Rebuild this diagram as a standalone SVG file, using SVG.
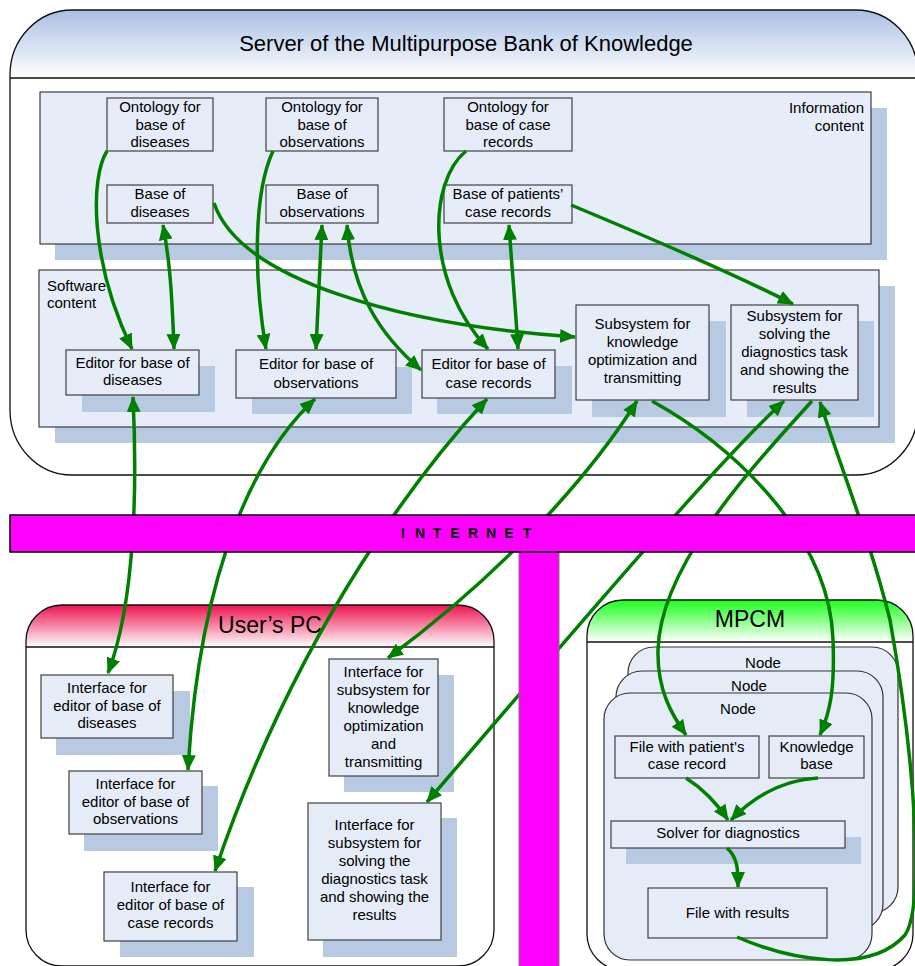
<svg xmlns="http://www.w3.org/2000/svg" width="915" height="966" viewBox="0 0 915 966">
<style>
.box{fill:#e5ecf7;stroke:#404040;stroke-width:1.2}
.sh{fill:#b8c9e2}
.panel{fill:#e6edf8;stroke:#1a1a1a;stroke-width:1}
.node{fill:#e5ecf7;stroke:#333;stroke-width:1.2}
.t{font-family:"Liberation Sans",Arial,sans-serif;font-size:15px;fill:#000;text-anchor:middle}
.l{text-anchor:start}
.r{text-anchor:end}
.h{font-family:"Liberation Sans",Arial,sans-serif;font-size:23px;fill:#000;text-anchor:middle}
.c{fill:none;stroke:#008000;stroke-width:3.5;marker-end:url(#ah)}
.d{marker-start:url(#ah)}
.cont{stroke:#111;stroke-width:1.3}
.hl{stroke:#111;stroke-width:1.3}
</style>
<defs>
<linearGradient id="gS" gradientUnits="userSpaceOnUse" x1="0" y1="10" x2="0" y2="78">
<stop offset="0" stop-color="#a9bfe3"/><stop offset="1" stop-color="#ffffff"/></linearGradient>
<linearGradient id="gU" gradientUnits="userSpaceOnUse" x1="0" y1="605" x2="0" y2="647">
<stop offset="0" stop-color="#ee1250"/><stop offset="1" stop-color="#ffffff"/></linearGradient>
<linearGradient id="gM" gradientUnits="userSpaceOnUse" x1="0" y1="600" x2="0" y2="642">
<stop offset="0" stop-color="#1cff1c"/><stop offset="1" stop-color="#ffffff"/></linearGradient>
<marker id="ah" markerUnits="userSpaceOnUse" viewBox="0 0 16 14" markerWidth="16" markerHeight="14" refX="15" refY="7" orient="auto-start-reverse">
<path d="M0,0 L16,7 L0,14 z" fill="#008000"/></marker>
</defs>

<!-- Server container -->
<g id="server">
<rect class="cont" x="10" y="10" width="908" height="465" rx="62" ry="65" fill="url(#gS)"/>
<line class="hl" x1="10" y1="78" x2="918" y2="78"/>
<text class="h" x="466" y="51" style="font-size:22px">Server of the Multipurpose Bank of Knowledge</text>
</g>

<g id="information-content">
<rect class="sh" x="55" y="108" width="832" height="152"/>
<rect class="panel" x="40" y="92" width="831" height="152"/>
<text class="t r"><tspan x="864" y="113">Information</tspan><tspan x="864" y="131">content</tspan></text>
</g>
<g id="ont-diseases"><rect class="box" x="107" y="98" width="106" height="53"/>
<text class="t"><tspan x="160" y="112">Ontology for</tspan><tspan x="160" y="129.5">base of</tspan><tspan x="160" y="147">diseases</tspan></text></g>
<g id="ont-observations"><rect class="box" x="266" y="98" width="112" height="53"/>
<text class="t"><tspan x="322" y="112">Ontology for</tspan><tspan x="322" y="129.5">base of</tspan><tspan x="322" y="147">observations</tspan></text></g>
<g id="ont-cases"><rect class="box" x="444" y="98" width="128" height="53"/>
<text class="t"><tspan x="508" y="112">Ontology for</tspan><tspan x="508" y="129.5">base of case</tspan><tspan x="508" y="147">records</tspan></text></g>
<g id="base-diseases"><rect class="box" x="107" y="185" width="106" height="38"/>
<text class="t"><tspan x="160" y="199">Base of</tspan><tspan x="160" y="217">diseases</tspan></text></g>
<g id="base-observations"><rect class="box" x="266" y="185" width="112" height="38"/>
<text class="t"><tspan x="322" y="199">Base of</tspan><tspan x="322" y="217">observations</tspan></text></g>
<g id="base-cases"><rect class="box" x="444" y="185" width="128" height="38"/>
<text class="t"><tspan x="508" y="199">Base of patients’</tspan><tspan x="508" y="217">case records</tspan></text></g>

<g id="software-content">
<rect class="sh" x="55" y="286" width="840" height="157"/>
<rect class="panel" x="39" y="270" width="840" height="157"/>
<text class="t l"><tspan x="47" y="291">Software</tspan><tspan x="47" y="308">content</tspan></text>
</g>
<g id="editor-diseases"><rect class="sh" x="82" y="366" width="133" height="46"/><rect class="box" x="66" y="350" width="133" height="45"/>
<text class="t"><tspan x="132.5" y="368">Editor for base of</tspan><tspan x="132.5" y="385">diseases</tspan></text></g>
<g id="editor-observations"><rect class="sh" x="252" y="367" width="160" height="47"/><rect class="box" x="236" y="350" width="160" height="48"/>
<text class="t"><tspan x="316" y="369">Editor for base of</tspan><tspan x="316" y="388">observations</tspan></text></g>
<g id="editor-cases"><rect class="sh" x="437" y="366" width="135" height="48"/><rect class="box" x="422" y="350" width="133" height="48"/>
<text class="t"><tspan x="488.5" y="369">Editor for base of</tspan><tspan x="488.5" y="388">case records</tspan></text></g>
<g id="subsystem-knowledge"><rect class="sh" x="592" y="321" width="134" height="96"/><rect class="box" x="576" y="305" width="133" height="95"/>
<text class="t"><tspan x="642.5" y="329">Subsystem for</tspan><tspan x="642.5" y="347">knowledge</tspan><tspan x="642.5" y="365">optimization and</tspan><tspan x="642.5" y="383">transmitting</tspan></text></g>
<g id="subsystem-solving"><rect class="sh" x="747" y="321" width="127" height="96"/><rect class="box" x="731" y="305" width="127" height="95"/>
<text class="t"><tspan x="794.5" y="321">Subsystem for</tspan><tspan x="794.5" y="339">solving the</tspan><tspan x="794.5" y="357">diagnostics task</tspan><tspan x="794.5" y="375">and showing the</tspan><tspan x="794.5" y="393">results</tspan></text></g>

<!-- User's PC -->
<g id="users-pc">
<rect class="cont" x="26" y="605" width="468" height="361" rx="36" fill="url(#gU)"/>
<line class="hl" x1="26" y1="647" x2="494" y2="647"/>
<text class="h" x="270" y="633">User’s PC</text>
</g>
<g id="if-diseases"><rect class="sh" x="56" y="691" width="134" height="64"/><rect class="box" x="41" y="675" width="132" height="63"/>
<text class="t"><tspan x="107" y="693">Interface for</tspan><tspan x="107" y="711">editor of base of</tspan><tspan x="107" y="728">diseases</tspan></text></g>
<g id="if-observations"><rect class="sh" x="84" y="786" width="134" height="65"/><rect class="box" x="69" y="771" width="133" height="63"/>
<text class="t"><tspan x="135.5" y="789">Interface for</tspan><tspan x="135.5" y="807">editor of base of</tspan><tspan x="135.5" y="824">observations</tspan></text></g>
<g id="if-cases"><rect class="sh" x="120" y="887" width="134" height="70"/><rect class="box" x="104" y="872" width="133" height="69"/>
<text class="t"><tspan x="170.5" y="892">Interface for</tspan><tspan x="170.5" y="910">editor of base of</tspan><tspan x="170.5" y="928">case records</tspan></text></g>
<g id="if-knowledge"><rect class="sh" x="344" y="675" width="110" height="117"/><rect class="box" x="329" y="659" width="109" height="117"/>
<text class="t"><tspan x="383.5" y="677">Interface for</tspan><tspan x="383.5" y="695">subsystem for</tspan><tspan x="383.5" y="713">knowledge</tspan><tspan x="383.5" y="731">optimization</tspan><tspan x="383.5" y="749">and</tspan><tspan x="383.5" y="767">transmitting</tspan></text></g>
<g id="if-solving"><rect class="sh" x="323" y="818" width="134" height="139"/><rect class="box" x="308" y="803" width="133" height="137"/>
<text class="t"><tspan x="374.5" y="830">Interface for</tspan><tspan x="374.5" y="848">subsystem for</tspan><tspan x="374.5" y="866">solving the</tspan><tspan x="374.5" y="884">diagnostics task</tspan><tspan x="374.5" y="902">and showing the</tspan><tspan x="374.5" y="920">results</tspan></text></g>

<!-- MPCM -->
<g id="mpcm">
<rect class="cont" x="587" y="600" width="326" height="370" rx="36" fill="url(#gM)"/>
<line class="hl" x1="587" y1="642" x2="913" y2="642"/>
<text class="h" x="750" y="627">MPCM</text>
</g>
<g id="node-3"><rect class="node" x="628" y="647" width="270" height="266" rx="26"/>
<text class="t" x="763" y="668">Node</text></g>
<g id="node-2"><rect class="node" x="616" y="671" width="267" height="259" rx="26"/>
<text class="t" x="749" y="691">Node</text></g>
<g id="node-1"><rect class="node" x="604" y="693" width="268" height="267" rx="26"/>
<text class="t" x="738" y="714">Node</text></g>
<g id="file-case"><rect class="box" x="615" y="736" width="144" height="42"/>
<text class="t"><tspan x="687" y="752">File with patient’s</tspan><tspan x="687" y="769">case record</tspan></text></g>
<g id="knowledge-base"><rect class="box" x="769" y="736" width="95" height="42"/>
<text class="t"><tspan x="816.5" y="752">Knowledge</tspan><tspan x="816.5" y="769">base</tspan></text></g>
<g id="solver"><rect class="sh" x="626" y="837" width="235" height="27"/><rect class="box" x="611" y="821" width="234" height="27"/>
<text class="t" x="728" y="838">Solver for diagnostics</text></g>
<g id="file-results"><rect class="box" x="648" y="888" width="179" height="50"/>
<text class="t" x="737.5" y="918">File with results</text></g>

<!-- Connectors -->
<g id="connectors">
<path class="c" d="M107,151 C90,178 90,262 132,349"/>
<path class="c d" d="M163,225 C170,262 172,295 174,349"/>
<path class="c" d="M273,151 C254,192 253,272 266,349"/>
<path class="c d" d="M322,225 C320,270 318,300 316,349"/>
<path class="c d" d="M347,225 C352,292 380,335 421,370"/>
<path class="c" d="M214,203 C240,280 400,325 575,337"/>
<path class="c" d="M466,151 C428,182 425,282 488,349"/>
<path class="c d" d="M509,225 C512,270 515,300 518,349"/>
<path class="c" d="M571,205 C655,240 730,272 793,304"/>
<path class="c d" d="M133,397 C137,480 136,600 108,673"/>
<path class="c d" d="M315,399 C260,450 200,560 188,770"/>
<path class="c d" d="M487,399 C430,460 300,620 215,871"/>
<path class="c d" d="M637,401 C600,460 520,560 388,658"/>
<path class="c d" d="M784,401 C720,460 600,600 427,802"/>
<path class="c" d="M812,401 C740,480 660,570 658,650 C657,690 672,715 686,735"/>
<path class="c" d="M652,401 C740,450 830,540 833,640 C835,690 830,712 820,735"/>
<path class="c" d="M737,937 C790,960 870,975 905,935 C925,905 915,760 890,620 C870,540 845,480 820,402"/>
<path class="c" d="M686,778 C705,790 718,805 728,820"/>
<path class="c" d="M818,778 C785,780 755,795 731,820"/>
<path class="c" d="M727,848 C738,858 738,870 738,887"/>
</g>

<!-- Internet -->
<g id="internet">
<rect x="519" y="552" width="40" height="420" fill="#ff00ff" stroke="#777" stroke-width="1"/>
<rect x="10" y="515" width="915" height="37" fill="#ff00ff" stroke="#000" stroke-width="1.5"/>
<text x="403 420 437 455 473 491 509 527" y="538" style="font-family:'Liberation Sans',Arial,sans-serif;font-size:14px;font-weight:bold;text-anchor:middle">INTERNET</text>
</g>
</svg>
